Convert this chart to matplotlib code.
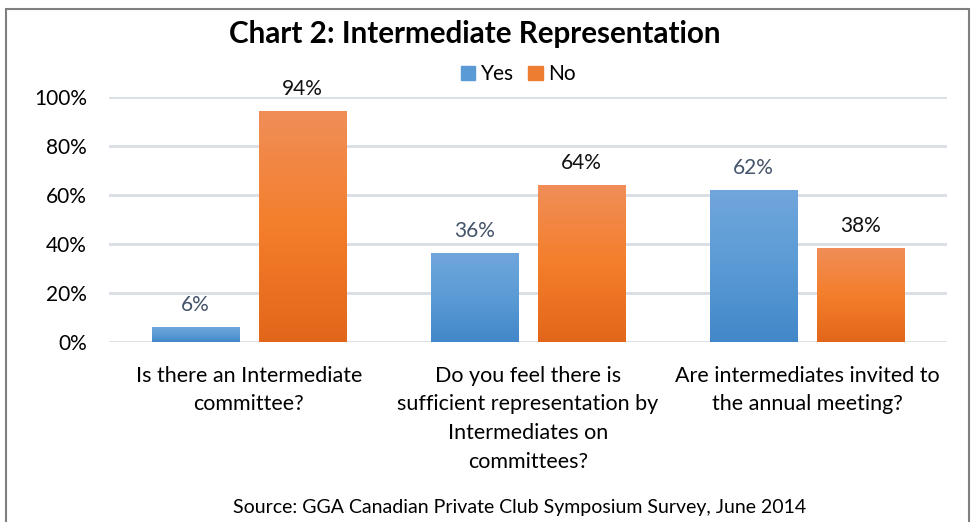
import numpy as np
import matplotlib.pyplot as plt
from matplotlib.patches import Rectangle

categories = [
    "Is there an Intermediate\ncommittee?",
    "Do you feel there is\nsufficient representation by\nIntermediates on\ncommittees?",
    "Are intermediates invited to\nthe annual meeting?",
]
yes_pct = [6, 36, 62]
no_pct = [94, 64, 38]

plt.rcParams['font.family'] = ['Lato', 'DejaVu Sans']

fig = plt.figure(figsize=(9.74, 5.22), dpi=100)
ax = fig.add_axes([0.112, 0.345, 0.860, 0.469])

x = np.arange(len(categories))
width = 0.312
offset = 0.192


def gradient_bars(xs, heights, top_rgb, mid_rgb, bottom_rgb):
    # vertical gradient drawn inside each bar's footprint
    t = np.linspace(0, 1, 256)[:, None]
    top = np.array(top_rgb) / 255
    mid = np.array(mid_rgb) / 255
    bot = np.array(bottom_rgb) / 255
    grad = np.where(t < 0.5, top + (mid - top) * (t / 0.5),
                    mid + (bot - mid) * ((t - 0.5) / 0.5))
    img = grad[:, None, :].repeat(2, axis=1)
    bars = ax.bar(xs, heights, width, color='none', zorder=3)
    for b in bars:
        x0, y0 = b.get_x(), b.get_y()
        w, h = b.get_width(), b.get_height()
        ax.imshow(img, extent=[x0, x0 + w, y0, y0 + h], aspect='auto',
                  origin='upper', zorder=2, interpolation='bilinear')
    return bars


gradient_bars(x - offset, yes_pct, (112, 166, 220), (91, 155, 213), (66, 135, 201))
gradient_bars(x + offset, no_pct, (240, 142, 88), (244, 126, 43), (226, 102, 26))

for xi, v in zip(x - offset, yes_pct):
    ax.annotate(f"{v}%", (xi, v), xytext=(0, 9), textcoords='offset points',
                ha='center', va='bottom', fontsize=15, color='#44546A')
for xi, v in zip(x + offset, no_pct):
    ax.annotate(f"{v}%", (xi, v), xytext=(0, 9), textcoords='offset points',
                ha='center', va='bottom', fontsize=15, color='#111111')

ax.set_xlim(-0.5, 2.5)
ax.set_ylim(0, 100)
ax.set_yticks(range(0, 101, 20))
ax.set_yticklabels([f"{v}%" for v in range(0, 101, 20)], fontsize=15)
ax.set_xticks(x)
ax.set_xticklabels(categories, fontsize=15.5, linespacing=1.55)
ax.tick_params(length=0)
ax.tick_params(axis='x', pad=17)
ax.tick_params(axis='y', pad=16)
ax.grid(axis='y', color='#D9DEE5', linewidth=2, zorder=0)
for s in ax.spines.values():
    s.set_visible(False)

# legend
yes_handle = Rectangle((0, 0), 1, 1, color='#5B9BD5')
no_handle = Rectangle((0, 0), 1, 1, color='#ED7D31')
fig.legend([yes_handle, no_handle], ["Yes", "No"], loc='center',
           bbox_to_anchor=(0.532, 0.858), ncol=2, frameon=False,
           fontsize=15, handlelength=0.7, handleheight=0.7,
           handletextpad=0.25, columnspacing=0.7)

fig.text(0.487, 0.935, "Chart 2: Intermediate Representation",
         ha='center', va='center', fontsize=21.3, fontweight='bold')
fig.text(0.533, 0.027, "Source: GGA Canadian Private Club Symposium Survey, June 2014",
         ha='center', va='center', fontsize=14)

# outer frame
fig.patches.append(Rectangle((6 / 974, -0.05), 963 / 974, 1.05 - 9 / 522,
                             transform=fig.transFigure, fill=False,
                             edgecolor='#7F7F7F', linewidth=1.5))

fig.savefig("out.png", dpi=100)
